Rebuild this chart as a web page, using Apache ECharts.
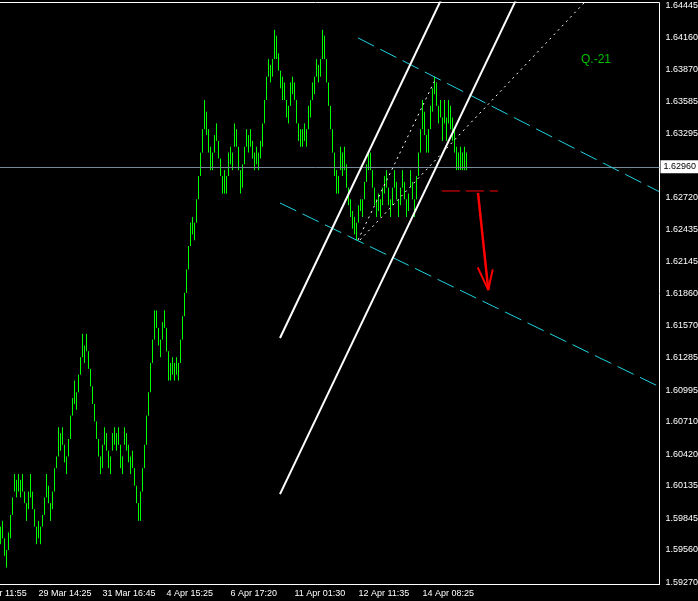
<!DOCTYPE html>
<html><head><meta charset="utf-8">
<script src="https://cdn.jsdelivr.net/npm/echarts@6/dist/echarts.min.js"></script>
<style>html,body{margin:0;padding:0;background:#000;overflow:hidden;width:698px;height:601px;}
#wrap{position:relative;width:698px;height:601px;overflow:hidden;}
#c{position:absolute;left:-29px;top:0;width:727px;height:601px;}</style>
</head><body><div id="wrap"><div id="c"></div></div><script>
// ---- data ----
const timeLabels = ['28 Mar 11:55','29 Mar 14:25','31 Mar 16:45','4 Apr 15:25','6 Apr 17:20','11 Apr 01:30','12 Apr 11:35','14 Apr 08:25'];
const timeLabelSlots = [1,33,65,97,129,161,193,225];
const firstBarSlot = 14;
const slotCount = 344;
const priceTicks = [1.64445,1.64160,1.63870,1.63585,1.63295,1.63010,1.62720,1.62435,1.62145,1.61860,1.61570,1.61285,1.60995,1.60710,1.60420,1.60135,1.59845,1.59560,1.59270];
const bidPrice = 1.62960;
const barHigh = [
1.59768,1.59820,1.59663,1.59558,1.59715,1.59873,1.60030,1.60240,1.60188,1.60240,
1.60188,1.60240,1.60083,1.59978,1.60083,1.60240,1.60083,1.59925,1.59768,1.59820,
1.59768,1.59873,1.60030,1.60240,1.60135,1.59978,1.60083,1.60293,1.60398,1.60660,
1.60608,1.60660,1.60503,1.60398,1.60555,1.60765,1.60923,1.61080,1.60975,1.61133,
1.61290,1.61500,1.61395,1.61500,1.61343,1.61185,1.61028,1.60870,1.60713,1.60555,
1.60398,1.60503,1.60660,1.60608,1.60450,1.60398,1.60608,1.60660,1.60608,1.60660,
1.60503,1.60398,1.60660,1.60608,1.60503,1.60398,1.60450,1.60293,1.60135,1.59978,
1.60083,1.60293,1.60503,1.60765,1.60975,1.61238,1.61448,1.61710,1.61710,1.61553,
1.61448,1.61605,1.61710,1.61553,1.61343,1.61238,1.61290,1.61238,1.61290,1.61238,
1.61448,1.61658,1.61868,1.62078,1.62288,1.62498,1.62550,1.62498,1.62708,1.62918,
1.63128,1.63338,1.63600,1.63495,1.63338,1.63180,1.63128,1.63285,1.63390,1.63233,
1.63075,1.62918,1.62970,1.62918,1.63128,1.63180,1.63128,1.63390,1.63338,1.63180,
1.62970,1.63023,1.63180,1.63338,1.63285,1.63338,1.63233,1.63128,1.63180,1.63128,
1.63233,1.63390,1.63600,1.63810,1.63968,1.63915,1.63968,1.64230,1.64178,1.64020,
1.63863,1.63810,1.63758,1.63600,1.63548,1.63758,1.63810,1.63758,1.63600,1.63390,
1.63338,1.63338,1.63390,1.63338,1.63548,1.63600,1.63758,1.63810,1.63968,1.63915,
1.63968,1.64230,1.64178,1.63968,1.63758,1.63548,1.63338,1.63128,1.62970,1.62918,
1.63180,1.63128,1.63180,1.63023,1.62813,1.62708,1.62603,1.62550,1.62498,1.62655,
1.62708,1.62708,1.62865,1.63023,1.63128,1.63128,1.62970,1.62813,1.62708,1.62760,
1.62708,1.62813,1.62918,1.62970,1.62813,1.62708,1.62813,1.62970,1.62865,1.62708,
1.62813,1.62970,1.62865,1.62708,1.62760,1.62970,1.62865,1.62708,1.62918,1.63128,
1.63338,1.63600,1.63495,1.63285,1.63338,1.63548,1.63705,1.63810,1.63758,1.63548,
1.63600,1.63443,1.63600,1.63443,1.63600,1.63548,1.63443,1.63338,1.63180,1.63128,
1.63180,1.63128,1.63180,1.63128];
const barLow = [
1.59610,1.59663,1.59505,1.59400,1.59558,1.59663,1.59873,1.60083,1.60030,1.60083,
1.60030,1.60083,1.59978,1.59820,1.59925,1.60030,1.59925,1.59768,1.59610,1.59663,
1.59610,1.59768,1.59873,1.60030,1.59978,1.59820,1.59925,1.60083,1.60293,1.60398,
1.60450,1.60503,1.60345,1.60240,1.60398,1.60555,1.60765,1.60870,1.60818,1.60975,
1.61133,1.61290,1.61238,1.61343,1.61185,1.61028,1.60870,1.60713,1.60555,1.60398,
1.60240,1.60293,1.60503,1.60450,1.60293,1.60240,1.60450,1.60503,1.60450,1.60503,
1.60293,1.60240,1.60503,1.60450,1.60345,1.60240,1.60293,1.60135,1.59978,1.59820,
1.59820,1.60083,1.60293,1.60503,1.60765,1.60975,1.61238,1.61448,1.61553,1.61395,
1.61290,1.61448,1.61553,1.61343,1.61080,1.61080,1.61133,1.61080,1.61133,1.61080,
1.61238,1.61448,1.61658,1.61868,1.62078,1.62288,1.62393,1.62340,1.62498,1.62708,
1.62918,1.63128,1.63338,1.63285,1.63128,1.62970,1.62970,1.63128,1.63233,1.63075,
1.62918,1.62760,1.62760,1.62760,1.62918,1.63023,1.62970,1.63180,1.63180,1.62970,
1.62760,1.62813,1.63023,1.63180,1.63128,1.63180,1.63075,1.62970,1.63023,1.62970,
1.63075,1.63180,1.63390,1.63600,1.63810,1.63758,1.63810,1.63968,1.63968,1.63863,
1.63705,1.63600,1.63600,1.63443,1.63390,1.63548,1.63653,1.63600,1.63390,1.63233,
1.63180,1.63180,1.63233,1.63180,1.63338,1.63443,1.63600,1.63653,1.63810,1.63758,
1.63810,1.63968,1.63968,1.63758,1.63548,1.63338,1.63128,1.62918,1.62760,1.62760,
1.62970,1.62918,1.62970,1.62813,1.62655,1.62550,1.62445,1.62393,1.62340,1.62498,
1.62603,1.62550,1.62708,1.62865,1.62970,1.62970,1.62813,1.62655,1.62550,1.62603,
1.62550,1.62655,1.62760,1.62813,1.62655,1.62550,1.62655,1.62813,1.62708,1.62550,
1.62655,1.62813,1.62708,1.62550,1.62603,1.62813,1.62708,1.62550,1.62708,1.62918,
1.63128,1.63338,1.63285,1.63128,1.63128,1.63338,1.63495,1.63653,1.63548,1.63390,
1.63443,1.63233,1.63390,1.63233,1.63390,1.63338,1.63233,1.63128,1.62970,1.62970,
1.62970,1.62970,1.62970,1.62970];
// annotation objects, in [bar slot, price]
const trendLineA = [[153.75,1.61462],[234.25,1.64499]];
const trendLineB = [[153.75,1.60060],[271.75,1.64499]];
const channelUpper = [[192.75,1.64158],[343.25,1.62778]];
const channelLower = [[153.75,1.62675],[343.25,1.61026]];
const dottedA = [[192.75,1.62343],[231.75,1.63798]];
const dottedB = [[193.75,1.62343],[305.75,1.64472]];
const targetLevel = [[234.75,1.62783],[262.75,1.62783]];
const arrowShaft = [[252.75,1.62765],[257.9,1.61893]];
const arrowHead = [[252.6,1.62097],[257.9,1.61893],[260.1,1.62079]];
const noteText = 'Q.-21';

// ---- chart ----
const categories = [];
for (let k = 0; k < slotCount; k++) categories.push('');
timeLabelSlots.forEach((s, j) => { categories[s] = timeLabels[j]; });
const labelSet = new Set(timeLabelSlots);
const bars = barHigh.map((h, i) => [i + firstBarSlot, barLow[i], h]);
const FONT = 'Liberation Sans';

function lineSeries(data, color, width, type) {
  return { type: 'line', xAxisIndex: 1, yAxisIndex: 0, data: data, symbol: 'none',
    silent: true, animation: false, z: 5,
    lineStyle: { color: color, width: width, type: type || 'solid' } };
}

const chart = echarts.init(document.getElementById('c'), null, { renderer: 'canvas', width: 727, height: 601 });
chart.setOption({
  backgroundColor: '#000000',
  animation: false,
  title: { text: noteText, left: 610, top: 54, padding: 0,
    textStyle: { color: '#00c000', fontSize: 12, fontWeight: 'normal', fontFamily: FONT } },
  grid: { left: 0.5, right: 38.5, top: 2.5, bottom: 16.5, show: true,
    containLabel: false, outerBoundsMode: 'none',
    borderColor: '#ffffff', borderWidth: 1, backgroundColor: 'transparent' },
  xAxis: [{
    type: 'category', data: categories, boundaryGap: true, position: 'bottom',
    axisLine: { lineStyle: { color: '#ffffff', width: 1 } },
    axisTick: { alignWithLabel: true, length: 3, interval: (i) => labelSet.has(i),
      lineStyle: { color: '#ffffff' } },
    axisLabel: { interval: (i) => labelSet.has(i), color: '#ffffff', fontSize: 9,
      fontFamily: FONT, align: 'left', margin: 5, showMinLabel: true, showMaxLabel: true,
      hideOverlap: false },
    splitLine: { show: false }
  }, {
    type: 'value', min: -0.5, max: slotCount - 0.5, show: false
  }],
  yAxis: [{
    type: 'value', position: 'right', min: 1.59248, max: 1.64476, scale: true,
    axisLine: { show: true, lineStyle: { color: '#ffffff', width: 1 } },
    axisTick: { show: true, length: 3, customValues: priceTicks, lineStyle: { color: '#ffffff' } },
    axisLabel: { customValues: priceTicks, color: '#ffffff', fontSize: 9, fontFamily: FONT,
      margin: 6, padding: [2, 0, 0, 0], formatter: (v) => v.toFixed(5) },
    splitLine: { show: false }
  }],
  series: [
    {
      type: 'custom', xAxisIndex: 0, yAxisIndex: 0, data: bars, clip: true, z: 3,
      encode: { x: 0, y: [1, 2] },
      renderItem: function (params, api) {
        const a = api.coord([api.value(0), api.value(1)]);
        const b = api.coord([api.value(0), api.value(2)]);
        return { type: 'line', shape: { x1: a[0], y1: a[1], x2: b[0], y2: b[1] },
          style: { stroke: '#00ff00', lineWidth: 1 } };
      },
      markLine: {
        silent: true, symbol: 'none', animation: false,
        lineStyle: { color: '#778899', width: 1, type: 'solid' },
        label: { show: true, position: 'end', distance: 1, formatter: () => bidPrice.toFixed(5),
          color: '#000000', backgroundColor: '#ffffff', fontSize: 9, fontFamily: FONT,
          padding: [3, 4, 1, 3] },
        data: [{ yAxis: bidPrice }]
      }
    },
    lineSeries(channelUpper, '#1ed2e0', 1, [18, 7]),
    lineSeries(channelLower, '#1ed2e0', 1, [18, 7]),
    lineSeries(trendLineA, '#ffffff', 2),
    lineSeries(trendLineB, '#ffffff', 2),
    lineSeries(dottedA, '#ffffff', 1, [2, 4]),
    lineSeries(dottedB, '#ffffff', 1, [2, 4]),
    lineSeries(targetLevel, '#ff0000', 1, [18, 6]),
    lineSeries(arrowShaft, '#ff0000', 2.5),
    lineSeries(arrowHead, '#ff0000', 2)
  ]
});
</script></body></html>
